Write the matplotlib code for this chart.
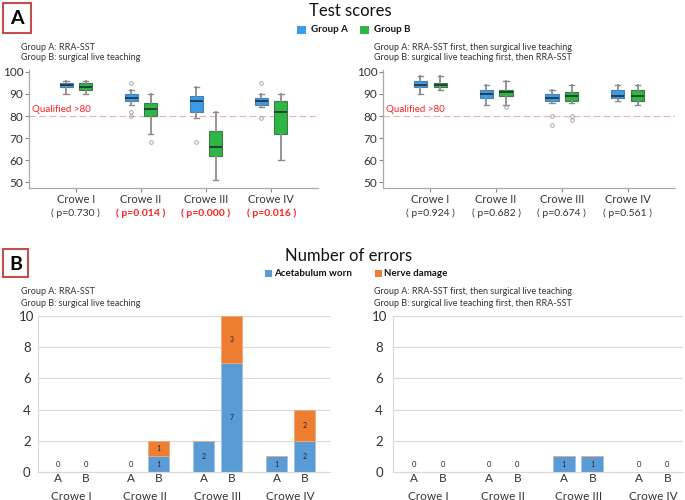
import matplotlib
matplotlib.use('Agg')
import matplotlib.pyplot as plt
from matplotlib.patches import Rectangle
import matplotlib.transforms as mtrans
import numpy as np

plt.rcParams['font.family'] = ['Lato', 'DejaVu Sans']

W, H = 685, 500

# ---------------- data ----------------
categories = ['Crowe I', 'Crowe II', 'Crowe III', 'Crowe IV']
groups = ['A', 'B']
p_left = ['0.730', '0.014', '0.000', '0.016']
p_left_sig = [False, True, True, True]
p_right = ['0.924', '0.682', '0.674', '0.561']
p_right_sig = [False, False, False, False]

# box stats: (whislo, q1, median, q3, whishi)
left_A = [(90, 93, 94, 95, 96), (85, 87, 88, 90, 92), (79, 82, 87, 89, 93), (84, 85, 87, 88, 90)]
left_A_fliers = [[], [95, 82, 80], [68], [95, 79]]
left_B = [(90, 92, 93, 95, 96), (72, 80, 83, 86, 90), (51, 62, 66, 73, 82), (60, 72, 82, 87, 90)]
left_B_fliers = [[], [68], [], []]
right_A = [(90, 93, 94, 96, 98), (85, 88, 90, 92, 94), (86, 87, 88, 90, 92), (87, 88, 89, 92, 94)]
right_A_fliers = [[], [], [80, 76], []]
right_B = [(92, 93, 94, 95, 98), (85, 89, 91, 92, 96), (86, 87, 89, 91, 94), (85, 87, 89, 92, 94)]
right_B_fliers = [[], [84], [80, 78], []]

qualified = 80

err_left_acet_A = [0, 0, 2, 1]
err_left_acet_B = [0, 1, 7, 2]
err_left_nerve_A = [0, 0, 0, 0]
err_left_nerve_B = [0, 1, 3, 2]
err_right_acet_A = [0, 0, 1, 0]
err_right_acet_B = [0, 0, 1, 0]
err_right_nerve_A = [0, 0, 0, 0]
err_right_nerve_B = [0, 0, 0, 0]

left_note = ['Group A: RRA-SST', 'Group B: surgical live teaching']
right_note = ['Group A: RRA-SST first, then surgical live teaching',
              'Group B: surgical live teaching first, then RRA-SST']

# ---------------- styles ----------------
BLUE_BOX = '#3A9BE6'
GREEN_BOX = '#2DB643'
BLUE_BAR = '#5B9BD5'
ORANGE_BAR = '#ED7D31'
RED = '#FF2020'
TXT = '#333333'

fig = plt.figure(figsize=(W / 100, H / 100), dpi=100)
fig.patch.set_facecolor('white')


def add_ax(x0, y0, x1, y1):
    return fig.add_axes([x0 / W, 1 - y1 / H, (x1 - x0) / W, (y1 - y0) / H])


def ftext(x, y, s, **kw):
    fig.text(x / W, 1 - y / H, s, **kw)


def frect(x0, y0, x1, y1, **kw):
    fig.patches.append(Rectangle((x0 / W, 1 - y1 / H), (x1 - x0) / W, (y1 - y0) / H,
                                 transform=fig.transFigure, **kw))


def box_panel(ax, A, Af, B, Bf, pvals, psig):
    pos = np.arange(len(categories))
    for stats, fl, off, col, ec in ((A, Af, -0.15, BLUE_BOX, '#4d7fa8'),
                                    (B, Bf, 0.15, GREEN_BOX, '#3f7a45')):
        st = [dict(whislo=s[0], q1=s[1], med=s[2], q3=s[3], whishi=s[4], fliers=f)
              for s, f in zip(stats, fl)]
        ax.bxp(st, positions=pos + off, widths=0.2, patch_artist=True,
               capwidths=0.08,
               boxprops=dict(facecolor=col, edgecolor=ec, linewidth=0.8),
               medianprops=dict(color='#1e2f3e', linewidth=1.2),
               whiskerprops=dict(color='#8c8c8c', linewidth=1.3),
               capprops=dict(color='#8c8c8c', linewidth=1.0),
               flierprops=dict(marker='o', markersize=2.6, markerfacecolor='none',
                               markeredgecolor='#999999', markeredgewidth=0.6))
    ax.axhline(qualified, color='#EBB0B0', lw=0.8, ls=(0, (6, 3)), zorder=0)
    ax.text(0.01, qualified + 1.0, 'Qualified >80', color=RED, fontsize=7,
            transform=mtrans.blended_transform_factory(ax.transAxes, ax.transData),
            va='bottom', ha='left')
    ax.set_xlim(-0.72, 3.72)
    ax.set_ylim(47.3, 100.9)
    ax.set_yticks(np.arange(50, 101, 10))
    ax.set_xticks(pos)
    ax.set_xticklabels([''] * len(pos))
    ax.tick_params(axis='y', labelsize=8.5, labelcolor=TXT, color='#888888', length=3, width=0.8, pad=1)
    ax.tick_params(axis='x', color='#888888', length=3, width=0.8)
    for s in ('top', 'right'):
        ax.spines[s].set_visible(False)
    for s in ('left', 'bottom'):
        ax.spines[s].set_color('#AAAAAA')
        ax.spines[s].set_linewidth(0.9)
    tr = mtrans.blended_transform_factory(ax.transData, ax.transAxes)
    for i, (c, p, sg) in enumerate(zip(categories, pvals, psig)):
        ax.text(i, -0.10, c, transform=tr, ha='center', va='center', fontsize=8, color=TXT)
        ax.text(i, -0.21, '( p=%s )' % p, transform=tr, ha='center', va='center', fontsize=7.5,
                color=RED if sg else TXT, fontweight='bold' if sg else 'normal')


def bar_panel(ax, acA, acB, nvA, nvB, xlim, ypad):
    pos = np.arange(len(categories))
    off = 0.19
    wdt = 0.29
    trx = mtrans.blended_transform_factory(ax.transData, ax.transAxes)
    for g, (ac, nv, o) in enumerate(((acA, nvA, -off), (acB, nvB, off))):
        x = pos + o
        ax.bar(x, ac, wdt, color=BLUE_BAR, edgecolor='#9ec3e6', linewidth=0.6, zorder=2)
        ax.bar(x, nv, wdt, bottom=ac, color=ORANGE_BAR, edgecolor='#f2a877', linewidth=0.6, zorder=2)
        for xi, a, n in zip(x, ac, nv):
            if a > 0:
                ax.text(xi, a / 2, str(a), ha='center', va='center', fontsize=5, color='#222222', zorder=3)
            if n > 0:
                ax.text(xi, a + n / 2, str(n), ha='center', va='center', fontsize=5, color='#222222', zorder=3)
            if a + n == 0:
                ax.text(xi, 0.5, '0', ha='center', va='center', fontsize=5.5, color='#222222', zorder=3)
            ax.text(xi, -7 / 156, groups[g], transform=trx, ha='center', va='center',
                    fontsize=8.5, color=TXT)
    ax.set_xticks([])
    ax.set_xlim(*xlim)
    ax.set_ylim(0, 10)
    ax.set_yticks(np.arange(0, 11, 2))
    ax.yaxis.grid(True, color='#D9D9D9', linewidth=0.8, zorder=0)
    ax.set_axisbelow(True)
    ax.tick_params(axis='both', length=0, labelsize=9.5, labelcolor=TXT)
    ax.tick_params(axis='y', pad=ypad)
    for s in ('top', 'right'):
        ax.spines[s].set_visible(False)
    for s in ('left', 'bottom'):
        ax.spines[s].set_color('#D9D9D9')
        ax.spines[s].set_linewidth(0.8)
    for lab in ax.get_yticklabels():
        lab.set_ha('center')
    for i, c in enumerate(categories):
        ax.text(i, -24 / 156, c, transform=trx, ha='center', va='center', fontsize=8.5, color=TXT)


# ---------------- panel A ----------------
axA1 = add_ax(29, 70, 318, 188)
box_panel(axA1, left_A, left_A_fliers, left_B, left_B_fliers, p_left, p_left_sig)
axA2 = add_ax(383, 70, 675, 188)
box_panel(axA2, right_A, right_A_fliers, right_B, right_B_fliers, p_right, p_right_sig)

# ---------------- panel B ----------------
axB1 = add_ax(38, 316, 330, 472)
bar_panel(axB1, err_left_acet_A, err_left_acet_B, err_left_nerve_A, err_left_nerve_B, (-0.46, 3.54), 8)
axB2 = add_ax(393, 316, 683, 472)
bar_panel(axB2, err_right_acet_A, err_right_acet_B, err_right_nerve_A, err_right_nerve_B, (-0.47, 3.40), 10)

# ---------------- titles / notes ----------------
ftext(350, 11, 'Test scores', ha='center', va='center', fontsize=12, color='#111111')
ftext(349, 256, 'Number of errors', ha='center', va='center', fontsize=12, color='#111111')

for k, s in enumerate(left_note):
    ftext(21, 47 + 11 * k, s, ha='left', va='center', fontsize=6.5, color=TXT)
    ftext(21, 292 + 11 * k, s, ha='left', va='center', fontsize=6.5, color=TXT)
for k, s in enumerate(right_note):
    ftext(374, 47 + 11 * k, s, ha='left', va='center', fontsize=6.5, color=TXT)
    ftext(374, 292 + 11 * k, s, ha='left', va='center', fontsize=6.5, color=TXT)

# legends (manual)
for (x0, col, lab) in ((297, BLUE_BOX, 'Group A'), (360, GREEN_BOX, 'Group B')):
    frect(x0, 26, x0 + 9, 34, facecolor=col, edgecolor='none')
    ftext(x0 + 14, 30, lab, ha='left', va='center', fontsize=7, fontweight='bold', color='#111111')
for (x0, col, lab) in ((265, BLUE_BAR, 'Acetabulum worn'), (375, ORANGE_BAR, 'Nerve damage')):
    frect(x0, 270, x0 + 7, 277, facecolor=col, edgecolor='none')
    ftext(x0 + 9, 273.5, lab, ha='left', va='center', fontsize=7, fontweight='bold', color='#111111')

# panel letters
for (x0, y0, x1, y1, s) in ((3, 3, 31, 33, 'A'), (3, 249, 28, 277, 'B')):
    frect(x0, y0, x1, y1, facecolor='white', edgecolor='#C0504D', linewidth=1.5)
    ftext((x0 + x1) / 2, (y0 + y1) / 2 + 1, s, ha='center', va='center', fontsize=14,
          fontweight='bold', color='black')

fig.savefig('out.png', dpi=100)
